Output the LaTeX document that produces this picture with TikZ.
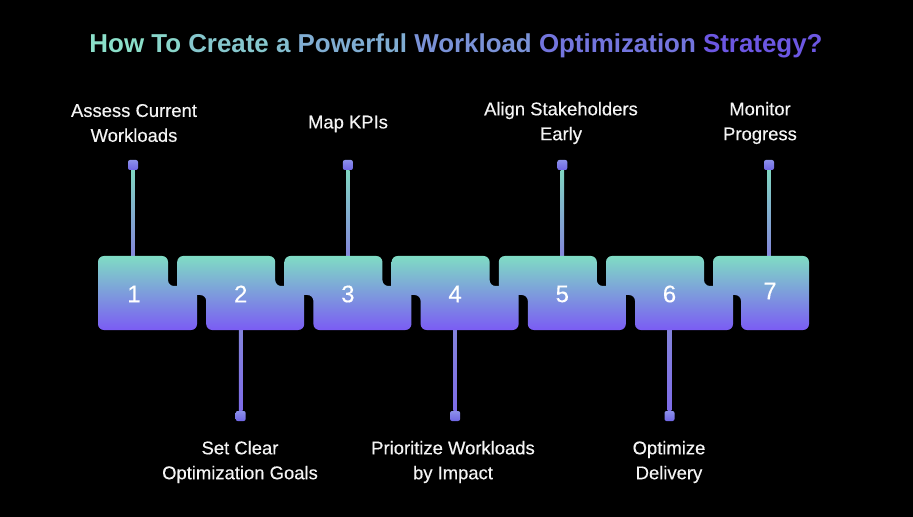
\documentclass[tikz,border=0pt]{standalone}
\usepackage{fontspec}
\setmainfont{Liberation Sans}
\newfontfamily\labelfont{Liberation Sans}[FakeBold=0.35]
\usepackage{xcolor}
\definecolor{BgBlack}{HTML}{000000}
\definecolor{PieceTop}{HTML}{7FDCC4}
\definecolor{PieceBot}{HTML}{7B5CF4}
\definecolor{TitleLeft}{HTML}{8CE2C8}
\definecolor{TitleRight}{HTML}{6A4EE4}
\definecolor{StemTeal}{HTML}{80D6C2}
\definecolor{StemLav}{HTML}{8484DC}
\definecolor{StemPurple}{HTML}{7E6CE8}
\definecolor{MarkTop}{HTML}{8C90EA}
\definecolor{MarkBot}{HTML}{6F66E4}
\definecolor{LabelWhite}{HTML}{F4F4F4}
\usetikzlibrary{positioning, calc}

\begin{document}
\begin{tikzpicture}[x=1bp, y=-1bp,
  piece/.style={top color=PieceTop, bottom color=PieceBot,
                rounded corners=6pt},
  numlbl/.style={text=white, font=\labelfont\fontsize{24}{26}\selectfont},
  steplbl/.style={text=LabelWhite, align=center,
                  font=\labelfont\fontsize{18.5}{25}\selectfont},
  marker/.style={minimum size=10bp, inner sep=0pt, rounded corners=2pt,
                 top color=MarkTop, bottom color=MarkBot},
  upstem/.style={top color=StemTeal, bottom color=StemLav},
  downstem/.style={top color=StemLav, bottom color=StemPurple},
  titlelbl/.style={font=\fontsize{26}{30}\selectfont\bfseries}
]

\useasboundingbox (0,0) rectangle (913,517);
\fill[BgBlack] (0,0) rectangle (913,517);

% title
\node[titlelbl] (title) at (456,46) {%
  \color{TitleRight!2!TitleLeft}How
  \color{TitleRight!9!TitleLeft}To
  \color{TitleRight!18!TitleLeft}Create
  \color{TitleRight!25!TitleLeft}a
  \color{TitleRight!36!TitleLeft}Powerful
  \color{TitleRight!54!TitleLeft}Workload
  \color{TitleRight!74!TitleLeft}Optimization
  \color{TitleRight!94!TitleLeft}Strategy?};

% markers and where the stems meet the pieces
\node[marker] (m1) at (133,165) {};
\node[marker] (m2) at (240.7,416) {};
\node[marker] (m3) at (347.9,165) {};
\node[marker] (m4) at (455.1,416) {};
\node[marker] (m5) at (562.3,165) {};
\node[marker] (m6) at (669.5,416) {};
\node[marker] (m7) at (769,165) {};

\coordinate (p1) at (133,258);
\coordinate (p2) at (240.7,328);
\coordinate (p3) at (347.9,258);
\coordinate (p4) at (455.1,328);
\coordinate (p5) at (562.3,258);
\coordinate (p6) at (669.5,328);
\coordinate (p7) at (769,258);

\shade[upstem] ([xshift=-1.8bp]m1.south) rectangle ([xshift=1.8bp]p1);
\shade[downstem] ([xshift=-1.8bp]p2) rectangle ([xshift=1.8bp]m2.north);
\shade[upstem] ([xshift=-1.8bp]m3.south) rectangle ([xshift=1.8bp]p3);
\shade[downstem] ([xshift=-1.8bp]p4) rectangle ([xshift=1.8bp]m4.north);
\shade[upstem] ([xshift=-1.8bp]m5.south) rectangle ([xshift=1.8bp]p5);
\shade[downstem] ([xshift=-1.8bp]p6) rectangle ([xshift=1.8bp]m6.north);
\shade[upstem] ([xshift=-1.8bp]m7.south) rectangle ([xshift=1.8bp]p7);

% puzzle pieces
\shade[piece] (98,256) -- (168,256) -- (168,286) -- (197,286)
  -- (197,330) -- (98,330) -- cycle;
\foreach \L in {177.2, 284.4, 391.6, 498.8, 606}
  \shade[piece] (\L,256) -- ++(98,0) -- ++(0,30) -- ++(29,0)
    -- ++(0,44) -- ++(-98,0) -- ++(0,-35) -- ++(-29,0) -- cycle;
\shade[piece] (713,256) -- (809,256) -- (809,330) -- (741,330)
  -- (741,295) -- (713,295) -- cycle;

\node[numlbl] (n1) at (134,294) {1};
\node[numlbl] (n2) at (240.7,294) {2};
\node[numlbl] (n3) at (347.9,294) {3};
\node[numlbl] (n4) at (455.1,294) {4};
\node[numlbl] (n5) at (562.3,294) {5};
\node[numlbl] (n6) at (669.5,294) {6};
\node[numlbl] (n7) at (770,291) {7};

% step labels
\node[steplbl] (s1) at (134,123) {Assess Current\\Workloads};
\node[steplbl] (s2) at (240,462) {Set Clear\\Optimization Goals};
\node[steplbl] (s3) at (348,124) {Map KPIs};
\node[steplbl] (s4) at (453,462) {Prioritize Workloads\\by Impact};
\node[steplbl] (s5) at (561,123) {Align Stakeholders\\Early};
\node[steplbl] (s6) at (669,462) {Optimize\\Delivery};
\node[steplbl] (s7) at (760,123) {Monitor\\Progress};

\end{tikzpicture}
\end{document}
